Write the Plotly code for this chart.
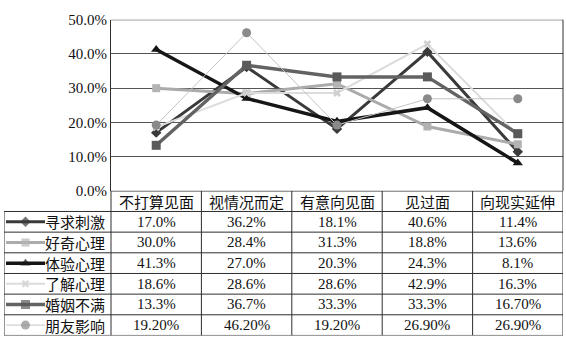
import plotly.graph_objects as go

# ---------------- data ----------------
categories = ["不打算见面", "视情况而定", "有意向见面", "见过面", "向现实延伸"]
series_names = ["寻求刺激", "好奇心理", "体验心理", "了解心理", "婚姻不满", "朋友影响"]
xunqiu_ciji = ["17.0%", "36.2%", "18.1%", "40.6%", "11.4%"]
haoqi_xinli = ["30.0%", "28.4%", "31.3%", "18.8%", "13.6%"]
tiyan_xinli = ["41.3%", "27.0%", "20.3%", "24.3%", "8.1%"]
liaojie_xinli = ["18.6%", "28.6%", "28.6%", "42.9%", "16.3%"]
hunyin_buman = ["13.3%", "36.7%", "33.3%", "33.3%", "16.70%"]
pengyou_yingxiang = ["19.20%", "46.20%", "19.20%", "26.90%", "26.90%"]
y_ticks = [0, 0.1, 0.2, 0.3, 0.4, 0.5]

series_labels = [xunqiu_ciji, haoqi_xinli, tiyan_xinli, liaojie_xinli, hunyin_buman, pengyou_yingxiang]

def to_val(s):
    return float(s.rstrip("%")) / 100.0

# ---------------- styles ----------------
styles = [
    dict(line_color="#3a3a3a", line_width=3, symbol="diamond", msize=8, mcolor="#3a3a3a"),
    dict(line_color="#ababab", line_width=3, symbol="square", msize=8, mcolor="#b3b3b3"),
    dict(line_color="#161616", line_width=3.5, symbol="triangle-up", msize=9, mcolor="#161616"),
    dict(line_color="#dcdcdc", line_width=2, symbol="x", msize=7, mcolor="#d0d0d0"),
    dict(line_color="#636363", line_width=3.5, symbol="square", msize=9, mcolor="#5a5a5a"),
    dict(line_color="#c4c4c4", line_width=1, symbol="circle", msize=9, mcolor="#8a8a8a"),
]

W, H = 566, 353
def py(y):
    return 1 - y / H

x_left, x_right = 111, 563
col_w = (x_right - x_left) / len(categories)
legend_w = (x_left - 4) / col_w

serif = "Liberation Serif, Noto Sans CJK SC, serif"
cjk = "Noto Sans CJK SC, sans-serif"
line_dark = "#2e2e2e"

fig = go.Figure()

xs = [i + 0.5 for i in range(len(categories))]
for name, labels, st in zip(series_names, series_labels, styles):
    fig.add_trace(go.Scatter(
        x=xs, y=[to_val(s) for s in labels], name=name,
        mode="lines+markers",
        line=dict(color=st["line_color"], width=st["line_width"]),
        marker=dict(symbol=st["symbol"], size=st["msize"], color=st["mcolor"],
                    line=dict(width=0)),
        xaxis="x", yaxis="y", cliponaxis=False,
    ))

# legend swatches inside the table
for r, st in enumerate(styles):
    sx0 = (6 - x_left) / col_w
    sx1 = (45 - x_left) / col_w
    fig.add_trace(go.Scatter(
        x=[sx0, (sx0 + sx1) / 2, sx1], y=[r + 0.5] * 3,
        mode="lines+markers",
        line=dict(color=st["line_color"], width=st["line_width"]),
        marker=dict(symbol=st["symbol"], size=[0, st["msize"], 0], color=st["mcolor"],
                    line=dict(width=0)),
        xaxis="x2", yaxis="y2", hoverinfo="skip",
    ))

shapes = []
# chart frame: top and right border
shapes.append(dict(type="line", xref="x", yref="y", x0=0, x1=5, y0=0.5, y1=0.5,
                   line=dict(color=line_dark, width=1.2)))
nrows = len(series_names)
ncols = len(categories)
# table horizontal lines
shapes.append(dict(type="line", xref="x2", yref="y2", x0=0, x1=ncols, y0=-1, y1=-1,
                   line=dict(color=line_dark, width=1.2)))
for r in range(nrows + 1):
    shapes.append(dict(type="line", xref="x2", yref="y2", x0=-legend_w, x1=ncols, y0=r, y1=r,
                       line=dict(color=line_dark, width=1)))
# table vertical lines
for c in range(ncols + 1):
    shapes.append(dict(type="line", xref="x2", yref="y2", x0=c, x1=c, y0=-1, y1=nrows,
                       line=dict(color=line_dark, width=1)))
shapes.append(dict(type="line", xref="x2", yref="y2", x0=-legend_w, x1=-legend_w, y0=0, y1=nrows,
                   line=dict(color=line_dark, width=1)))
# right border of chart
shapes.append(dict(type="line", xref="paper", yref="paper", x0=x_right / W, x1=x_right / W,
                   y0=py(191.5), y1=py(12.3), line=dict(color=line_dark, width=1)))

annotations = []
for c, cat in enumerate(categories):
    annotations.append(dict(x=c + 0.5, y=-0.5, xref="x2", yref="y2", text=cat,
                            showarrow=False, font=dict(family=cjk, size=15, color="#111")))
for r, (name, labels) in enumerate(zip(series_names, series_labels)):
    annotations.append(dict(x=(107 - x_left) / col_w, y=r + 0.5, xref="x2", yref="y2",
                            text=name, xanchor="right", showarrow=False,
                            font=dict(family=cjk, size=15, color="#111")))
    for c, s in enumerate(labels):
        annotations.append(dict(x=c + 0.5, y=r + 0.5, xref="x2", yref="y2", text=s,
                                showarrow=False, font=dict(family=serif, size=15, color="#111")))

fig.update_layout(
    width=W, height=H,
    margin=dict(l=0, r=0, t=0, b=0),
    paper_bgcolor="white", plot_bgcolor="white",
    showlegend=False,
    xaxis=dict(domain=[x_left / W, x_right / W], range=[0, ncols], showticklabels=False,
               showgrid=False, zeroline=False, ticks=""),
    yaxis=dict(domain=[py(191.5), py(12.3)], range=[0, 0.5], tickvals=y_ticks,
               tickformat=".1%", showgrid=True, gridcolor="#555555", gridwidth=1,
               zeroline=False, showline=True, linecolor=line_dark, linewidth=1.2,
               ticks="", tickfont=dict(family=serif, size=15, color="#111")),
    xaxis2=dict(domain=[4 / W, x_right / W], range=[-legend_w, ncols], visible=False),
    yaxis2=dict(domain=[py(343), py(191.5)], range=[nrows, -1], visible=False),
    shapes=shapes,
    annotations=annotations,
)

fig.write_html("out.html")
